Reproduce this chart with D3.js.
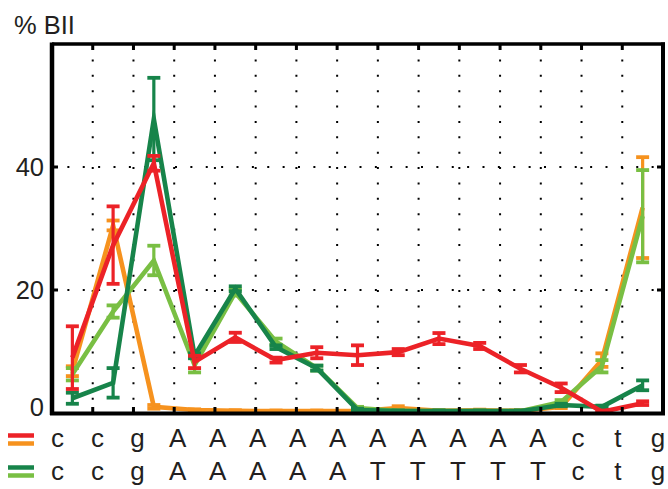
<!DOCTYPE html>
<html>
<head>
<meta charset="utf-8">
<script src="https://cdn.jsdelivr.net/npm/d3@7"></script>
<style>
  html, body { margin: 0; padding: 0; background: #ffffff; }
  svg { display: block; }
  text { font-family: "Liberation Sans", Arial, Helvetica, sans-serif; fill: #231f20; }
</style>
</head>
<body>
<svg id="chart" width="668" height="489"></svg>
<script>
// ---- data ----
const seqTop    = ["c","c","g","A","A","A","A","A","A","A","A","A","A","c","t","g"];
const seqBottom = ["c","c","g","A","A","A","A","A","T","T","T","T","T","c","t","g"];
const steps = [0,1,2,3,4,5,6,7,8,9,10,11,12,13,14];
const yTicks = [0, 20, 40];
const yTickLabels = ["0", "20", "40"];
const gridY = [20, 40];

const redVals      = [9.0, 27.3, 40.6, 8.3, 12.3, 8.6, 9.8, 9.4, 9.9, 12.1, 10.9, 7.2, 4.1, 0.2, 1.6];
const redErr       = [5.1, 6.3, 1.2, 1.0, 0.75, 0.4, 0.9, 1.6, 0.5, 0.9, 0.5, 0.6, 0.7, 0.2, 0.3];
const orangeVals   = [6.8, 30.5, 1.0, 0.5, 0.35, 0.3, 0.3, 0.3, 0.8, 0.35, 0.45, 0.35, 1.0, 8.6, 33.4];
const orangeErr    = [0.8, 0.8, 0.3, 0.1, 0.1, 0.1, 0.1, 0.1, 0.3, 0.1, 0.1, 0.1, 0.2, 1.1, 8.2];
const dkGreenVals  = [2.4, 4.9, 47.8, 9.3, 20.2, 10.7, 7.3, 0.5, 0.3, 0.3, 0.3, 0.3, 1.3, 1.0, 4.5];
const dkGreenErr   = [0.9, 2.4, 6.7, 0.4, 0.4, 0.3, 0.4, 0.2, 0.1, 0.1, 0.1, 0.1, 0.2, 0.2, 0.8];
const ltGreenVals  = [6.3, 16.5, 24.8, 7.8, 19.6, 11.6, 7.3, 0.8, 0.3, 0.3, 0.3, 0.3, 1.8, 7.6, 32.0];
const ltGreenErr   = [1.0, 1.0, 2.4, 1.2, 0.5, 0.5, 0.4, 0.2, 0.1, 0.1, 0.1, 0.1, 0.3, 1.0, 7.5];

const colors = { red: "#ec2227", orange: "#f6921e", dkGreen: "#17844a", ltGreen: "#79bf43" };

// drawing order: orange, light green, dark green, red
const series = [
  { vals: orangeVals,  err: orangeErr,  color: colors.orange },
  { vals: ltGreenVals, err: ltGreenErr, color: colors.ltGreen },
  { vals: dkGreenVals, err: dkGreenErr, color: colors.dkGreen },
  { vals: redVals,     err: redErr,     color: colors.red }
];

// ---- layout ----
const svg = d3.select("#chart");
const L = 52, R = 663, T = 44, B = 413;
const x = d3.scaleLinear().domain([-0.5, 14.5]).range([L, R]);
const y = d3.scaleLinear().domain([0, 60]).range([B, T]);
const xLab = d3.scalePoint().domain(d3.range(seqTop.length)).range([57.5, 658]);

// grid (dotted)
const dash = "2,13.375";
const vGrid = steps.slice(0, -1).map(k => k + 0.5);
svg.append("g").selectAll("line").data(vGrid).join("line")
  .attr("x1", d => x(d)).attr("x2", d => x(d))
  .attr("y1", T).attr("y2", B)
  .attr("stroke", "#000").attr("stroke-width", 2)
  .attr("stroke-dasharray", dash);
svg.append("g").selectAll("line").data(gridY).join("line")
  .attr("x1", L).attr("x2", R)
  .attr("y1", d => y(d)).attr("y2", d => y(d))
  .attr("stroke", "#000").attr("stroke-width", 2)
  .attr("stroke-dasharray", dash);

// series
const line = d3.line().x((d, i) => x(steps[i])).y(d => y(d));
series.forEach(s => {
  const g = svg.append("g");
  g.append("path").datum(s.vals)
    .attr("d", line).attr("fill", "none")
    .attr("stroke", s.color).attr("stroke-width", 4.6)
    .attr("stroke-linejoin", "miter").attr("stroke-miterlimit", 10);
  const eb = g.selectAll("g.eb").data(s.vals.map((v, i) => ({ v, e: s.err[i], k: steps[i] }))).join("g");
  eb.append("line")
    .attr("x1", d => x(d.k)).attr("x2", d => x(d.k))
    .attr("y1", d => y(d.v + d.e)).attr("y2", d => y(d.v - d.e))
    .attr("stroke", s.color).attr("stroke-width", 3.2);
  [1, -1].forEach(sign => {
    eb.append("line")
      .attr("x1", d => x(d.k) - 6.5).attr("x2", d => x(d.k) + 6.5)
      .attr("y1", d => y(d.v + sign * d.e)).attr("y2", d => y(d.v + sign * d.e))
      .attr("stroke", s.color).attr("stroke-width", 3.8);
  });
});

// frame
const frame = svg.append("g").attr("stroke", "#000").attr("fill", "none");
frame.append("line").attr("x1", L).attr("x2", R + 2).attr("y1", T).attr("y2", T).attr("stroke-width", 3.5);
frame.append("line").attr("x1", R).attr("x2", R).attr("y1", T - 1.5).attr("y2", B + 2).attr("stroke-width", 4);
frame.append("line").attr("x1", L).attr("x2", L).attr("y1", T - 1.5).attr("y2", B + 2).attr("stroke-width", 4.5);
frame.append("line").attr("x1", L - 2).attr("x2", R + 2).attr("y1", B + 0.5).attr("y2", B + 0.5).attr("stroke-width", 4);

// ticks
frame.selectAll("line.tb").data(vGrid).join("line")
  .attr("x1", d => x(d)).attr("x2", d => x(d)).attr("y1", B).attr("y2", B - 6).attr("stroke-width", 3);
frame.selectAll("line.tt").data(vGrid).join("line")
  .attr("x1", d => x(d)).attr("x2", d => x(d)).attr("y1", T).attr("y2", T + 6).attr("stroke-width", 3);
frame.selectAll("line.tl").data(gridY).join("line")
  .attr("x1", L).attr("x2", L + 6).attr("y1", d => y(d)).attr("y2", d => y(d)).attr("stroke-width", 3);
frame.selectAll("line.tr").data(gridY).join("line")
  .attr("x1", R).attr("x2", R - 6).attr("y1", d => y(d)).attr("y2", d => y(d)).attr("stroke-width", 3);

// y labels
svg.append("g").selectAll("text").data(yTicks).join("text")
  .attr("x", 44).attr("y", d => y(d) + (d === 0 ? 3 : 8.5))
  .attr("text-anchor", "end").attr("font-size", 25.5)
  .text((d, i) => yTickLabels[i]);

svg.append("text").attr("x", 14).attr("y", 34).attr("font-size", 25.5).text("% BII");

// sequence labels
svg.append("g").selectAll("text").data(seqTop).join("text")
  .attr("x", (d, i) => xLab(i)).attr("y", 447)
  .attr("text-anchor", "middle").attr("font-size", 26).text(d => d);
svg.append("g").selectAll("text").data(seqBottom).join("text")
  .attr("x", (d, i) => xLab(i)).attr("y", 480)
  .attr("text-anchor", "middle").attr("font-size", 26).text(d => d);

// legend swatches
const legend = [
  { y: 435.5, c: colors.red }, { y: 443.5, c: colors.orange },
  { y: 467.5, c: colors.dkGreen }, { y: 475.5, c: colors.ltGreen }
];
svg.append("g").selectAll("line").data(legend).join("line")
  .attr("x1", 8).attr("x2", 34).attr("y1", d => d.y).attr("y2", d => d.y)
  .attr("stroke", d => d.c).attr("stroke-width", 4.5);
</script>
</body>
</html>
